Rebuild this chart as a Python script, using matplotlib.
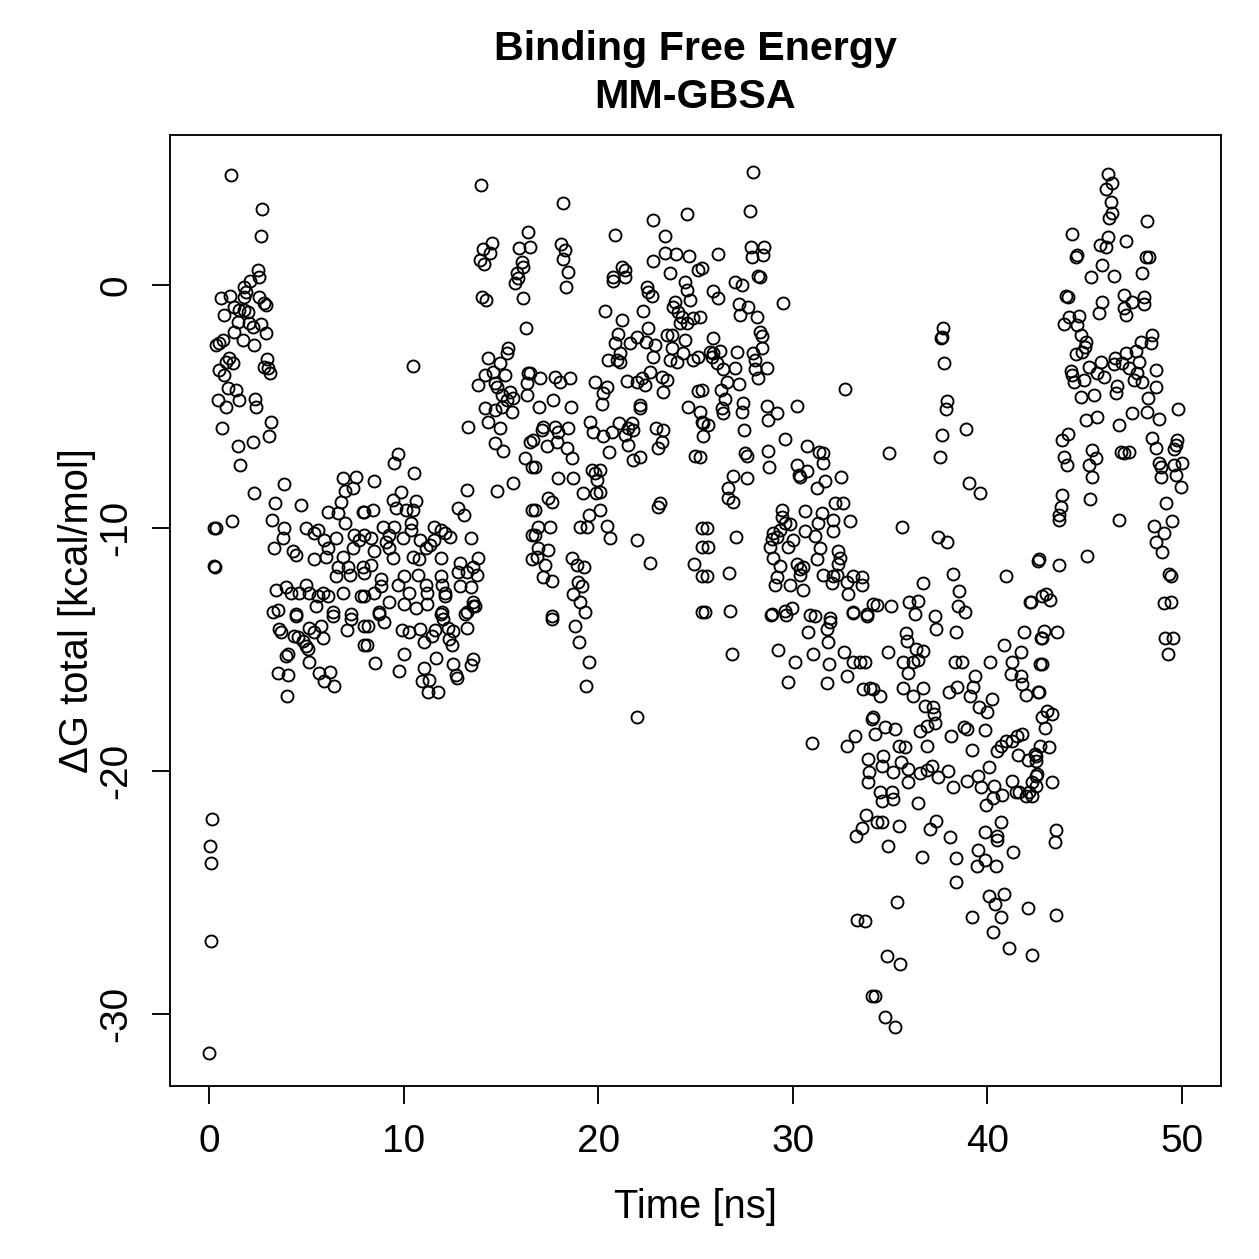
import matplotlib
matplotlib.use("Agg")
import matplotlib.pyplot as plt

plt.rcParams['font.family'] = ['Liberation Sans', 'DejaVu Sans']
plt.rcParams['axes.unicode_minus'] = False

# (time [ns], dG total [kcal/mol]), grouped by time span
start_pts = [
    (0.0, -31.6), (0.05, -23.1), (0.1, -23.8), (0.15, -22.0), (0.1, -27.0), (0.25, -10.0), (0.35, -10.0),
    (0.3, -11.6), (1.13, 4.52), (2.72, 3.12), (2.67, 2.01), (2.51, 0.62), (2.56, 0.33), (2.10, 0.16),
    (1.79, -0.08), (1.90, -0.29), (0.62, -0.53), (1.08, -0.45), (1.79, -0.49), (2.56, -0.49), (2.82, -0.74),
    (2.92, -0.82), (1.28, -0.90), (1.54, -1.03), (1.79, -1.03), (0.77, -1.23), (2.0, -1.1), (1.49, -1.52),
    (2.05, -1.56), (2.67, -1.6), (2.26, -1.73), (1.28, -1.93), (2.92, -1.97), (1.74, -2.26), (2.31, -2.47),
    (0.51, -2.38), (0.36, -2.47), (0.72, -2.26), (1.03, -3.0), (0.87, -3.16), (1.23, -3.2), (0.51, -3.49),
    (0.77, -3.7), (2.97, -3.04), (2.82, -3.37), (3.03, -3.41), (3.13, -3.62), (0.97, -4.23), (1.38, -4.32),
    (0.46, -4.73), (0.87, -5.01), (1.54, -4.73), (2.36, -4.69), (2.41, -5.01), (3.18, -5.63), (3.08, -6.21),
    (0.67, -5.88), (1.49, -6.62), (2.26, -6.45), (1.59, -7.40), (2.31, -8.55), (1.18, -9.70), (0.26, -11.55),
]

low_pts = [
    (6.87, -7.93), (7.54, -7.89), (7.38, -8.34), (6.97, -8.47), (3.85, -8.18), (3.38, -8.96), (4.72, -9.04),
    (6.77, -8.92), (6.10, -9.33), (6.62, -9.37), (7.90, -9.33), (6.97, -9.78), (3.23, -9.66), (3.85, -9.99),
    (3.79, -10.40), (4.97, -9.99), (5.59, -10.07), (6.51, -10.40), (5.38, -10.19), (5.90, -10.48),
    (7.44, -10.28), (7.69, -10.48), (7.38, -10.81), (3.33, -10.81), (4.31, -10.97), (4.46, -11.10),
    (6.10, -10.81), (6.0, -11.18), (6.87, -11.18), (5.38, -11.30), (6.62, -11.59), (7.13, -11.59),
    (7.90, -11.63), (7.23, -11.92), (6.51, -12.0), (3.44, -12.54), (3.95, -12.45), (4.21, -12.66),
    (4.62, -12.66), (4.97, -12.37), (5.13, -12.66), (5.85, -12.66), (6.10, -12.82), (5.59, -12.82),
    (6.87, -12.66), (7.79, -12.82), (3.28, -13.48), (3.54, -13.36), (4.46, -13.56), (5.49, -13.23),
    (6.36, -13.48), (7.28, -13.56), (4.46, -13.64), (6.36, -13.64), (7.28, -13.77), (7.08, -14.22),
    (7.95, -14.05), (7.95, -14.80), (3.59, -14.18), (3.69, -14.30), (4.36, -14.47), (4.56, -14.51),
    (5.13, -14.10), (5.38, -14.30), (5.74, -14.05), (5.85, -14.55), (4.82, -14.67), (4.97, -14.88),
    (5.08, -15.00), (4.05, -15.21), (3.95, -15.29), (5.13, -15.54), (3.54, -15.99), (4.05, -16.07),
    (5.64, -15.99), (5.90, -16.32), (6.21, -15.95), (6.41, -16.52), (4.0, -16.93),
    (10.46, -3.33), (9.74, -6.95), (9.49, -7.32), (10.56, -7.73), (8.46, -8.06), (9.85, -8.51),
    (9.44, -8.84), (10.62, -8.88), (9.59, -9.17), (10.10, -9.25), (10.51, -9.25), (8.41, -9.25),
    (7.95, -9.33), (10.36, -9.78), (9.49, -9.95), (8.92, -9.95), (7.95, -10.28), (8.31, -10.40),
    (9.23, -10.28), (9.95, -10.40), (10.36, -10.07), (11.54, -9.95), (11.90, -10.07), (12.15, -10.19),
    (12.41, -10.36), (13.44, -10.40), (12.82, -9.17), (13.08, -9.45), (13.28, -8.43), (8.46, -10.97),
    (9.08, -10.60), (9.23, -10.81), (9.44, -11.22), (10.87, -10.48), (11.13, -10.81), (11.38, -10.69),
    (11.54, -10.48), (10.51, -11.18), (10.77, -11.30), (11.90, -11.22), (8.31, -11.51), (7.95, -11.84),
    (8.82, -12.12), (8.82, -12.41), (8.46, -12.66), (7.95, -12.82), (9.69, -12.33), (10.0, -12.0),
    (10.72, -11.92), (10.26, -12.66), (11.13, -12.33), (11.23, -12.66), (11.90, -12.0), (12.0, -12.33),
    (12.15, -12.66), (12.92, -11.43), (13.28, -11.80), (12.82, -11.80), (13.59, -11.59), (13.85, -11.22),
    (13.79, -11.92), (12.92, -12.41), (13.44, -12.45), (13.59, -13.03), (13.69, -13.23), (13.28, -13.48),
    (12.0, -13.48), (11.23, -13.15), (10.62, -13.28), (10.0, -13.15), (9.23, -13.07), (8.72, -13.48),
    (12.15, -12.82), (8.72, -13.56), (8.97, -13.89), (8.15, -14.05), (8.10, -14.80), (8.51, -15.58),
    (9.90, -14.22), (10.26, -14.30), (10.82, -14.18), (11.03, -14.71), (10.0, -15.17), (9.79, -15.91),
    (11.44, -14.47), (11.64, -14.22), (11.90, -13.56), (12.05, -13.77), (12.26, -14.10), (12.56, -14.26),
    (12.31, -14.59), (12.51, -14.80), (13.28, -14.14), (13.18, -13.56), (13.59, -13.23), (11.69, -15.37),
    (11.03, -15.78), (10.97, -16.32), (11.33, -16.28), (11.28, -16.77), (11.79, -16.77), (12.56, -15.62),
    (12.67, -16.07), (12.77, -16.19), (13.59, -15.41), (13.49, -15.66),
]

high_pts = [
    (14.0, 4.11), (14.56, 1.73), (14.10, 1.48), (14.46, 1.32), (13.95, 1.03), (14.15, 0.86), (16.41, 2.18),
    (15.95, 1.52), (16.51, 1.56), (16.10, 0.95), (16.15, 0.74), (15.85, 0.49), (15.74, 0.08), (15.90, 0.29),
    (16.15, -0.53), (14.05, -0.49), (14.26, -0.62), (16.31, -1.77), (15.38, -2.59), (14.36, -3.0),
    (15.33, -2.79), (14.97, -3.21), (14.62, -3.58), (14.21, -3.70), (13.85, -4.11), (15.23, -3.70),
    (16.41, -3.62), (16.36, -4.03), (14.72, -4.03), (14.82, -4.19), (15.08, -4.52), (15.49, -4.40),
    (15.33, -4.73), (15.64, -4.64), (16.36, -4.52), (14.21, -5.06), (14.72, -5.14), (15.08, -5.01),
    (15.59, -5.22), (14.36, -5.63), (14.97, -5.88), (13.33, -5.84), (14.72, -6.49), (15.13, -6.82),
    (16.51, -6.45), (16.26, -7.11), (16.62, -7.48), (14.82, -8.47), (15.64, -8.14), (16.62, -9.25),
    (16.62, -10.28), (16.62, -11.30),
    (18.21, 3.37), (18.10, 1.69), (18.31, 1.44), (18.21, 1.07), (18.46, 0.53), (18.36, -0.08), (20.87, 2.06),
    (22.82, 2.67), (24.56, 2.92), (23.44, 2.01), (23.44, 1.32), (24.0, 1.27), (24.67, 1.19), (22.82, 0.99),
    (23.69, 0.49), (25.13, 0.62), (21.23, 0.74), (21.38, 0.62), (20.77, 0.33), (20.77, 0.16), (21.38, 0.33),
    (22.51, -0.08), (22.56, -0.29), (22.77, -0.45), (24.46, 0.12), (24.56, -0.21), (24.72, -0.62),
    (23.95, -0.70), (23.85, -0.90), (24.10, -1.11), (24.31, -1.32), (24.21, -1.56), (24.56, -1.56),
    (24.87, -1.36), (20.36, -1.07), (21.23, -1.44), (22.31, -1.07), (22.56, -1.77), (21.03, -2.01),
    (20.87, -2.38), (22.0, -2.14), (21.64, -2.38), (22.46, -2.34), (22.92, -2.47), (23.54, -2.06),
    (23.79, -2.06), (24.46, -2.26), (23.79, -2.59), (22.82, -2.96), (20.51, -3.08), (20.97, -3.08),
    (21.13, -2.79), (21.13, -3.16), (23.69, -3.08), (24.05, -3.16), (24.36, -2.79), (24.87, -3.08),
    (25.13, -2.96), (17.03, -3.82), (17.79, -3.78), (18.05, -3.99), (18.56, -3.82), (16.51, -3.62),
    (19.85, -3.99), (20.46, -4.19), (21.49, -3.95), (22.26, -3.82), (22.41, -4.11), (22.67, -3.58),
    (23.28, -3.78), (23.54, -3.90), (23.33, -4.40), (22.0, -3.99), (25.13, -4.36), (16.97, -5.01),
    (17.69, -4.73), (18.62, -5.01), (20.26, -4.44), (20.21, -4.89), (22.15, -4.93), (22.15, -5.06),
    (24.62, -5.01), (25.23, -5.22), (25.33, -5.63), (17.18, -5.84), (17.13, -5.96), (17.79, -5.84),
    (17.95, -6.04), (18.46, -5.88), (17.90, -6.45), (18.41, -6.70), (18.67, -7.11), (17.38, -6.62),
    (16.67, -6.37), (16.77, -7.48), (19.59, -5.63), (19.74, -6.04), (20.26, -6.21), (20.72, -6.04),
    (21.08, -5.67), (21.38, -6.17), (21.54, -5.88), (21.74, -5.67), (21.79, -5.96), (21.54, -6.58),
    (20.56, -6.86), (21.79, -7.19), (22.15, -7.07), (22.97, -5.88), (23.33, -5.96), (23.28, -6.45),
    (23.08, -6.70), (24.97, -7.03), (19.69, -7.60), (19.85, -7.73), (20.10, -7.60), (19.95, -8.01),
    (17.95, -7.93), (18.72, -7.93), (19.23, -8.55), (20.10, -8.51), (19.90, -8.55), (17.44, -8.75),
    (17.64, -8.92), (16.77, -9.25), (20.10, -9.25), (19.08, -9.95), (19.44, -9.95), (19.54, -9.49),
    (23.18, -8.96), (23.08, -9.12), (16.92, -9.95), (17.54, -9.95), (16.77, -10.28), (20.46, -9.91),
    (20.62, -10.40), (22.0, -10.48), (16.92, -10.81), (17.44, -10.89), (16.87, -11.18), (17.28, -11.51),
    (17.18, -12.04), (17.64, -12.17), (18.67, -11.22), (18.92, -11.51), (19.28, -11.63), (18.97, -12.21),
    (19.18, -12.41), (18.72, -12.74), (19.08, -13.07), (19.33, -13.48), (17.64, -13.64), (22.67, -11.43),
    (24.92, -11.47), (25.33, -12.0), (25.33, -10.77), (25.33, -9.99), (25.33, -13.48), (17.64, -13.77),
    (18.82, -14.05), (19.03, -14.71), (19.54, -15.50), (19.38, -16.52), (22.0, -17.80),
]

mid_pts = [
    (27.95, 4.64), (27.79, 3.04), (27.85, 1.56), (28.51, 1.56), (27.90, 1.15), (28.46, 1.23), (26.15, 1.27),
    (28.21, 0.37), (28.31, 0.33), (25.33, 0.70), (25.90, -0.25), (26.15, -0.53), (27.03, 0.12),
    (27.38, 0.0), (29.49, -0.74), (27.23, -0.78), (27.69, -0.90), (27.28, -1.23), (28.15, -1.32),
    (28.31, -1.93), (28.41, -2.10), (25.23, -1.32), (25.90, -2.18), (25.74, -2.75), (25.90, -2.79),
    (25.85, -2.96), (26.26, -2.71), (26.10, -3.21), (26.41, -3.45), (27.13, -2.75), (27.03, -3.41),
    (27.95, -2.79), (28.05, -3.08), (28.41, -2.59), (28.05, -3.45), (28.67, -3.41), (28.21, -3.82),
    (27.23, -4.07), (26.62, -3.99), (26.31, -4.32), (26.51, -4.69), (26.36, -5.06), (26.41, -5.26),
    (27.44, -4.85), (27.38, -5.22), (28.67, -4.97), (29.18, -5.26), (28.72, -5.55), (30.21, -4.97),
    (32.67, -4.27), (25.33, -4.32), (25.38, -5.67), (25.64, -5.75), (25.38, -6.21), (27.49, -5.96),
    (29.59, -6.33), (27.54, -6.90), (27.64, -7.03), (28.72, -6.82), (28.77, -7.48), (30.72, -6.62),
    (31.33, -6.86), (31.54, -6.90), (31.54, -7.32), (30.21, -7.40), (30.31, -7.81), (30.36, -7.89),
    (30.72, -7.64), (31.64, -8.06), (31.23, -8.34), (32.46, -7.89), (26.92, -7.85), (27.64, -7.93),
    (26.67, -8.34), (26.67, -8.75), (26.92, -8.92), (25.23, -7.07), (29.44, -9.25), (29.44, -9.54),
    (29.59, -9.78), (29.33, -10.07), (28.97, -10.19), (29.18, -10.36), (29.85, -9.86), (30.62, -9.29),
    (30.62, -10.11), (31.13, -10.32), (31.28, -9.78), (31.49, -9.37), (32.05, -9.66), (32.15, -8.96),
    (32.56, -8.96), (32.92, -9.70), (32.05, -10.11), (28.92, -10.44), (28.82, -10.77), (29.74, -10.77),
    (30.0, -10.48), (31.38, -10.81), (31.23, -11.26), (32.31, -10.97), (32.41, -11.22), (32.31, -11.47),
    (28.97, -11.22), (29.33, -11.55), (30.21, -11.47), (30.36, -11.71), (30.51, -11.59), (30.36, -11.92),
    (29.18, -12.04), (29.08, -12.37), (29.85, -12.33), (30.51, -12.54), (31.54, -11.92), (32.0, -12.25),
    (32.05, -11.96), (32.26, -11.92), (32.77, -12.21), (33.08, -12.0), (33.54, -12.04), (33.54, -12.33),
    (32.82, -12.74), (25.59, -9.99), (25.64, -10.77), (27.08, -10.36), (25.59, -12.0), (26.72, -11.84),
    (25.49, -13.48), (26.77, -13.44), (28.92, -13.56), (29.59, -13.44), (29.95, -13.28), (30.87, -13.60),
    (31.13, -13.64), (31.90, -13.69), (33.08, -13.48), (33.79, -13.56), (34.10, -13.15),
    (26.87, -15.21), (28.87, -13.60), (29.64, -13.60), (30.77, -14.30), (31.90, -13.89), (31.74, -14.18),
    (33.08, -13.52), (33.79, -13.64), (29.23, -15.04), (30.10, -15.54), (31.03, -15.21), (31.79, -14.71),
    (31.85, -15.62), (29.74, -16.36), (31.74, -16.40), (32.62, -15.12), (32.77, -16.11), (33.08, -15.50),
    (33.44, -15.54), (33.69, -15.54), (33.59, -16.65), (33.95, -16.60), (30.97, -18.87), (33.18, -18.58),
    (32.77, -18.99), (33.85, -19.52), (33.90, -20.06), (33.85, -20.47), (34.05, -17.88), (33.74, -21.82),
    (33.54, -22.36), (33.23, -22.69), (33.28, -26.14), (33.69, -26.18), (34.05, -29.26),
]

dip_pts = [
    (37.74, -1.77), (37.64, -2.14), (37.59, -2.18), (37.79, -3.21), (37.90, -4.77), (37.85, -5.10),
    (37.64, -6.17), (38.92, -5.92), (34.92, -6.90), (37.54, -7.07), (39.03, -8.14), (39.64, -8.55),
    (35.59, -9.95), (37.44, -10.36), (37.90, -10.60), (42.62, -11.38), (38.21, -11.88), (40.97, -12.0),
    (36.67, -12.25), (35.95, -13.03), (36.41, -12.99), (34.31, -13.19), (35.03, -13.23), (38.56, -12.58),
    (38.51, -13.23), (38.87, -13.48), (36.26, -13.56), (37.28, -13.64), (42.21, -13.07), (42.82, -12.82),
    (37.38, -14.18), (38.41, -14.30), (41.90, -14.30), (42.82, -14.55), (40.87, -14.80), (41.74, -15.12),
    (35.79, -14.34), (35.85, -14.67), (36.31, -15.0), (36.67, -15.08), (34.87, -15.12), (35.64, -15.54),
    (36.15, -15.54), (36.41, -15.45), (35.90, -15.99), (38.31, -15.54), (38.67, -15.54), (40.15, -15.54),
    (41.28, -15.50), (41.23, -16.03), (41.74, -16.11), (41.79, -16.44), (42.0, -16.89), (42.72, -15.62),
    (42.67, -16.77), (39.38, -16.11), (39.28, -16.56), (39.08, -16.93), (38.46, -16.56), (38.05, -16.77),
    (34.10, -16.65), (34.46, -16.93), (35.64, -16.60), (36.15, -16.93), (36.67, -16.60), (36.77, -17.34),
    (37.18, -17.39), (37.23, -17.67), (37.28, -18.04), (36.92, -18.17), (36.56, -18.37), (39.59, -17.39),
    (40.0, -17.59), (40.21, -17.06), (34.10, -17.80), (34.72, -18.21), (35.23, -18.29), (34.21, -18.50),
    (36.92, -18.99), (38.15, -18.58), (39.23, -19.15), (39.85, -18.33), (38.82, -18.21), (38.97, -18.29),
    (35.44, -18.99), (35.74, -19.03), (34.62, -19.40), (34.56, -19.81), (35.13, -20.06), (35.54, -19.64),
    (35.90, -19.93), (36.51, -20.10), (36.92, -19.97), (37.13, -19.81), (37.44, -20.26), (37.95, -20.02),
    (38.21, -20.67), (35.90, -20.47), (34.46, -20.88), (34.56, -21.25), (35.08, -20.88), (35.13, -21.17),
    (36.41, -21.33), (34.31, -22.11), (34.56, -22.11), (35.44, -22.28), (37.03, -22.40), (37.38, -22.07),
    (34.87, -23.10), (36.62, -23.55), (38.10, -22.73), (38.36, -23.59), (38.41, -24.58), (35.33, -25.40),
    (38.97, -20.43), (39.54, -20.22), (40.10, -19.85), (39.69, -20.67), (39.95, -21.41), (40.36, -20.63),
    (40.31, -21.13), (40.77, -21.0), (41.28, -20.43), (41.49, -20.88), (41.64, -20.88), (42.0, -21.04),
    (42.31, -21.04), (42.51, -20.63), (42.15, -20.88), (40.72, -18.99), (40.51, -19.19), (40.97, -18.78),
    (41.28, -18.78), (41.54, -18.58), (41.79, -18.50), (41.59, -19.36), (42.10, -19.56), (42.51, -19.40),
    (42.56, -20.14), (40.72, -22.11), (40.51, -22.69), (40.51, -22.85), (39.85, -22.52), (39.49, -23.26),
    (39.85, -23.67), (39.44, -23.92), (40.46, -23.92), (41.33, -23.35), (40.10, -25.15), (40.41, -25.48),
    (40.87, -25.07), (40.72, -26.02), (40.26, -26.63), (41.13, -27.29), (39.23, -26.02), (42.10, -25.65),
    (42.31, -27.58), (34.82, -27.62), (35.49, -27.95), (34.21, -29.26), (34.72, -30.13), (35.23, -30.54),
]

end_pts = [
    (46.21, 4.56), (46.41, 4.19), (46.10, 3.95), (46.36, 3.41), (46.41, 2.96), (46.26, 2.75), (48.21, 2.63),
    (44.36, 2.10), (46.21, 1.97), (45.79, 1.64), (46.10, 1.56), (47.13, 1.81), (44.56, 1.15), (44.62, 1.23),
    (48.15, 1.15), (48.31, 1.15), (45.90, 0.82), (45.33, 0.33), (46.51, 0.37), (47.95, 0.49), (44.05, -0.45),
    (44.15, -0.49), (45.90, -0.70), (47.03, -0.41), (48.05, -0.49), (47.44, -0.70), (48.05, -0.78),
    (45.74, -1.15), (47.03, -0.95), (47.13, -1.23), (44.21, -1.32), (44.72, -1.27), (43.95, -1.60),
    (44.62, -1.64), (44.82, -2.06), (45.08, -2.34), (45.03, -2.55), (44.56, -2.84), (44.87, -2.75),
    (47.90, -2.34), (48.46, -2.06), (48.41, -2.38), (47.64, -2.71), (47.13, -2.79), (46.56, -3.0),
    (45.85, -3.16), (45.23, -3.37), (44.31, -3.53), (44.36, -3.70), (44.46, -3.99), (44.97, -3.90),
    (45.64, -3.62), (46.0, -3.78), (46.51, -3.25), (46.92, -3.21), (47.28, -3.41), (47.79, -3.16),
    (47.69, -3.62), (47.54, -3.90), (47.95, -3.99), (48.67, -3.49), (48.67, -4.19), (48.26, -4.64),
    (46.67, -4.15), (46.62, -4.44), (45.49, -4.52), (44.82, -4.60), (47.44, -5.26), (48.21, -5.22),
    (48.82, -5.51), (49.79, -5.10), (46.77, -5.75), (45.64, -5.43), (45.08, -5.55), (44.15, -6.12),
    (43.85, -6.37), (48.46, -6.29), (48.67, -6.70), (49.74, -6.37), (49.69, -6.58), (49.59, -6.74),
    (45.39, -6.78), (45.59, -7.11), (46.87, -6.86), (47.03, -6.90), (47.28, -6.86), (43.95, -7.07),
    (44.10, -7.40), (45.23, -7.40), (45.39, -7.89), (48.82, -7.32), (48.92, -7.48), (49.59, -7.40),
    (50.0, -7.32), (49.69, -7.81), (49.95, -8.30), (48.92, -7.89), (43.85, -8.63), (43.79, -9.12),
    (43.69, -9.45), (43.69, -9.66), (45.28, -8.80), (46.77, -9.66), (49.18, -8.96), (49.49, -9.70),
    (48.56, -9.91), (49.08, -10.19), (48.67, -10.60), (48.97, -11.01), (42.67, -11.30), (43.69, -11.51),
    (45.13, -11.14), (49.33, -11.88), (49.44, -11.96), (43.03, -12.74), (43.23, -12.95), (42.26, -13.07),
    (49.08, -13.11), (49.44, -13.03), (43.59, -14.30), (42.92, -14.26), (42.77, -14.55), (42.82, -15.62),
    (49.13, -14.55), (49.54, -14.55), (49.28, -15.17), (42.62, -16.77), (43.33, -17.67), (43.08, -17.55),
    (42.82, -17.80), (42.97, -18.25), (43.18, -19.03), (42.72, -18.99), (42.46, -19.32), (42.51, -19.60),
    (42.51, -20.22), (42.31, -20.47), (43.33, -20.47), (43.54, -22.44), (43.49, -22.93), (43.54, -25.93),
]

all_pts = start_pts + low_pts + high_pts + mid_pts + dip_pts + end_pts
time_ns = [p[0] for p in all_pts]
dg_total = [p[1] for p in all_pts]

fig = plt.figure(figsize=(1259 / 180, 1259 / 180), dpi=180)
ax = fig.add_axes([170 / 1259, 1 - 1086 / 1259, (1221 - 170) / 1259, (1086 - 135) / 1259])

ax.plot(time_ns, dg_total, linestyle='none', marker='o', markersize=4.8,
        markerfacecolor='none', markeredgecolor='black', markeredgewidth=0.75)

ax.set_xlim(-2, 52)
ax.set_ylim(-32.97, 6.17)
ax.set_xticks([0, 10, 20, 30, 40, 50])
ax.set_yticks([-30, -20, -10, 0])

for s in ax.spines.values():
    s.set_linewidth(0.75)
ax.tick_params(length=7.2, width=0.75, labelsize=15.5)
ax.tick_params(axis='x', pad=8)
ax.tick_params(axis='y', pad=7)
for lab in ax.get_yticklabels():
    lab.set_rotation(90)
    lab.set_va('center')

ax.set_xlabel('Time [ns]', fontsize=16, labelpad=11)
ax.set_ylabel('ΔG total [kcal/mol]', fontsize=16, labelpad=1)
ax.set_title('Binding Free Energy\nMM-GBSA', fontsize=16.5, fontweight='bold', pad=11, linespacing=1.32)

fig.savefig('out.png', dpi=180)
